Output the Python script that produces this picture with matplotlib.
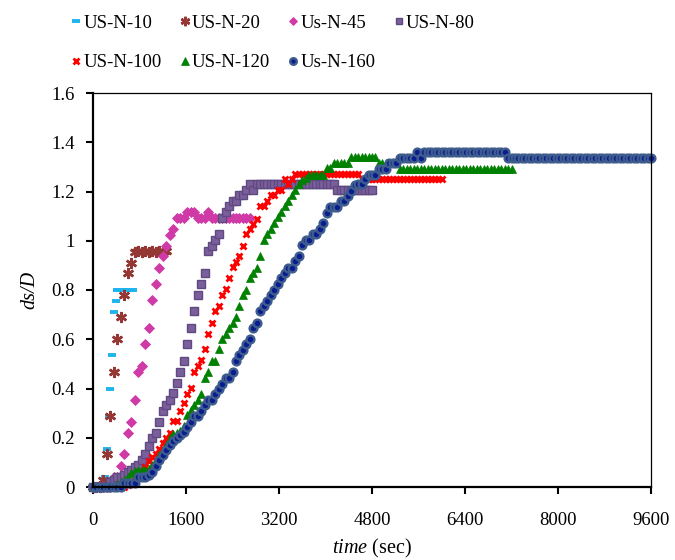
import numpy as np
import matplotlib
matplotlib.use('Agg')
import matplotlib.pyplot as plt

plt.rcParams['font.family'] = ['Liberation Serif', 'DejaVu Serif']
plt.rcParams['mathtext.fontset'] = 'custom'
plt.rcParams['mathtext.rm'] = 'Liberation Serif'
plt.rcParams['mathtext.it'] = 'Liberation Serif:italic'

# ---- data (time step of each series in seconds, ds/D values) ----
dt_10 = 30
us_n_10 = [0, 0, 0, 0, 0, 0, 0, 0.04, 0.155, 0.29, 0.40, 0.535, 0.71, 0.755] + [0.80] * 10

dt_20 = 60
us_n_20 = [0, 0, 0, 0.03, 0.135, 0.29, 0.465, 0.60, 0.69, 0.78, 0.87, 0.91,
           0.955, 0.96, 0.955, 0.96, 0.955, 0.96, 0.955, 0.96, 0.955, 0.96]

dt_45 = 60
us_n_45 = ([0] * 6 + [0.04, 0.04,
           0.087, 0.133, 0.22, 0.264, 0.355, 0.467, 0.49, 0.58, 0.645, 0.76,
           0.824, 0.89, 0.94, 0.98, 1.024, 1.049]
           + [1.093] * 3 + [1.117] * 3 + [1.093] * 3 + [1.117] + [1.093] * 12)

dt_80 = 60
us_n_80 = ([0] * 5 + [0.02, 0.03, 0.04, 0.04, 0.05, 0.06, 0.07, 0.08, 0.09, 0.11,
           0.135, 0.165, 0.20, 0.22, 0.264, 0.31, 0.332, 0.355, 0.38, 0.423,
           0.467, 0.51, 0.58, 0.645, 0.713, 0.78, 0.824, 0.868, 0.96, 0.98,
           1.004, 1.026, 1.093, 1.117, 1.14, 1.162, 1.162, 1.185, 1.185, 1.205,
           1.229, 1.205] + [1.229] * 23 + [1.205] * 11)

dt_100 = 60
us_n_100 = ([0] * 10 + [0.01, 0.02, 0.03, 0.045, 0.06, 0.08, 0.107, 0.12, 0.135,
            0.154, 0.178, 0.20, 0.22, 0.267, 0.267, 0.31, 0.34, 0.378, 0.403,
            0.467, 0.491, 0.514, 0.559, 0.623, 0.668, 0.713, 0.736, 0.78, 0.804,
            0.848, 0.893, 0.913, 0.937, 0.98, 1.026, 1.049, 1.069, 1.09, 1.141,
            1.141, 1.162, 1.185, 1.185, 1.205, 1.205, 1.249, 1.229, 1.249]
            + [1.273] * 19 + [1.25] * 24)

dt_120 = 60
us_n_120 = ([0] * 7 + [0.01, 0.02, 0.03, 0.042, 0.056, 0.065, 0.069, 0.069, 0.069,
            0.075, 0.09, 0.11, 0.13, 0.15, 0.17, 0.20, 0.215, 0.22, 0.226, 0.246,
            0.291, 0.314, 0.335, 0.355, 0.378, 0.444, 0.467, 0.511, 0.511, 0.559,
            0.60, 0.623, 0.645, 0.668, 0.69, 0.736, 0.78, 0.80, 0.848, 0.868,
            0.89, 0.937, 1.005, 1.026, 1.049, 1.073, 1.097, 1.117, 1.14, 1.162,
            1.185, 1.205, 1.229, 1.247, 1.253]
            + [1.269] * 5 + [1.294] * 2 + [1.314] * 5 + [1.341] * 8
            + [1.314] * 6 + [1.29] * 33)

dt_160 = 60
us_n_160 = ([0] * 9 + [0.018] * 4 + [0.042] * 3 +
            [0.05, 0.062, 0.086, 0.11, 0.13, 0.151, 0.171, 0.185, 0.199, 0.212,
             0.222, 0.242, 0.264, 0.287, 0.29, 0.31, 0.332, 0.355, 0.355, 0.378,
             0.399, 0.42, 0.444, 0.444, 0.467, 0.511, 0.535, 0.556, 0.58, 0.60,
             0.644, 0.668, 0.713, 0.736, 0.756, 0.78, 0.80, 0.824, 0.848, 0.869,
             0.89, 0.89, 0.916, 0.937, 0.981, 1.005, 1.005, 1.026, 1.026, 1.049,
             1.072, 1.114, 1.137, 1.137, 1.137, 1.16, 1.16, 1.182, 1.203, 1.226,
             1.229, 1.229, 1.25, 1.269, 1.269, 1.269, 1.29, 1.29, 1.29, 1.314,
             1.314, 1.314]
            + [1.337] * 5 + [1.362] + [1.337] + [1.362] * 24 + [1.337] * 42)

series_labels = ['US-N-10', 'US-N-20', 'Us-N-45', 'US-N-80',
                 'US-N-100', 'US-N-120', 'Us-N-160']
x_ticks = [0, 1600, 3200, 4800, 6400, 8000, 9600]
y_ticks = [0, 0.2, 0.4, 0.6, 0.8, 1, 1.2, 1.4, 1.6]
y_tick_labels = ['0', '0.2', '0.4', '0.6', '0.8', '1', '1.2', '1.4', '1.6']

# ---- styles ----
styles = [
    dict(marker='_', ms=6, mew=2.8, color='#1EB4EE'),
    dict(marker=(6, 2, 0), ms=8, mew=1.8, color='#953735'),
    dict(marker='D', ms=4.8, mfc='#D03AA6', mec='#D03AA6', mew=0.6),
    dict(marker='s', ms=5.8, mfc='#7B5F9C', mec='#5E4A80', mew=1.0),
    dict(marker='x', ms=4.6, mew=2.0, color='#FF0000'),
    dict(marker='^', ms=6, mfc='#008000', mec='#008000', mew=0.5),
    dict(marker='o', ms=5.6, mfc='#0A1C90', mec='#3E5C8C', mew=1.7),
]

all_series = [(us_n_10, dt_10), (us_n_20, dt_20), (us_n_45, dt_45), (us_n_80, dt_80),
              (us_n_100, dt_100), (us_n_120, dt_120), (us_n_160, dt_160)]

fig = plt.figure(figsize=(6.75, 5.6), dpi=100)
ax = fig.add_axes([93 / 675, 1 - 487 / 560, (651 - 93) / 675, (487 - 93) / 560])

handles = []
for (vals, dt), lab, st in zip(all_series, series_labels, styles):
    t = np.arange(len(vals)) * dt
    h, = ax.plot(t, vals, linestyle='none', label=lab, clip_on=False, **st)
    handles.append(h)

ax.set_xlim(0, 9600)
ax.set_ylim(0, 1.6)
ax.set_xticks(x_ticks)
ax.set_xticklabels([str(v) for v in x_ticks])
ax.set_yticks(y_ticks)
ax.set_yticklabels(y_tick_labels)
ax.tick_params(axis='both', direction='out', length=5, width=1.5, labelsize=13.5)
ax.tick_params(axis='x', pad=13)
ax.tick_params(axis='y', pad=8)

for s in ['left', 'bottom']:
    ax.spines[s].set_linewidth(1.6)
for s in ['top', 'right']:
    ax.spines[s].set_linewidth(0.9)

ax.set_ylabel('ds/D', fontsize=14.5, fontstyle='italic', labelpad=9)
ax.set_xlabel(r'$\it{time}$ (sec)', fontsize=14.5, labelpad=6)

order = [0, 4, 1, 5, 2, 6, 3]
leg = fig.legend([handles[i] for i in order], [series_labels[i] for i in order],
                 ncol=4, loc='upper left', bbox_to_anchor=(64 / 675, 1 - 7 / 560),
                 borderaxespad=0, frameon=False, fontsize=13.5, handlelength=0.5,
                 handletextpad=0.12, columnspacing=1.0, labelspacing=1.2,
                 markerscale=0.85)

fig.savefig('out.png', dpi=100)
